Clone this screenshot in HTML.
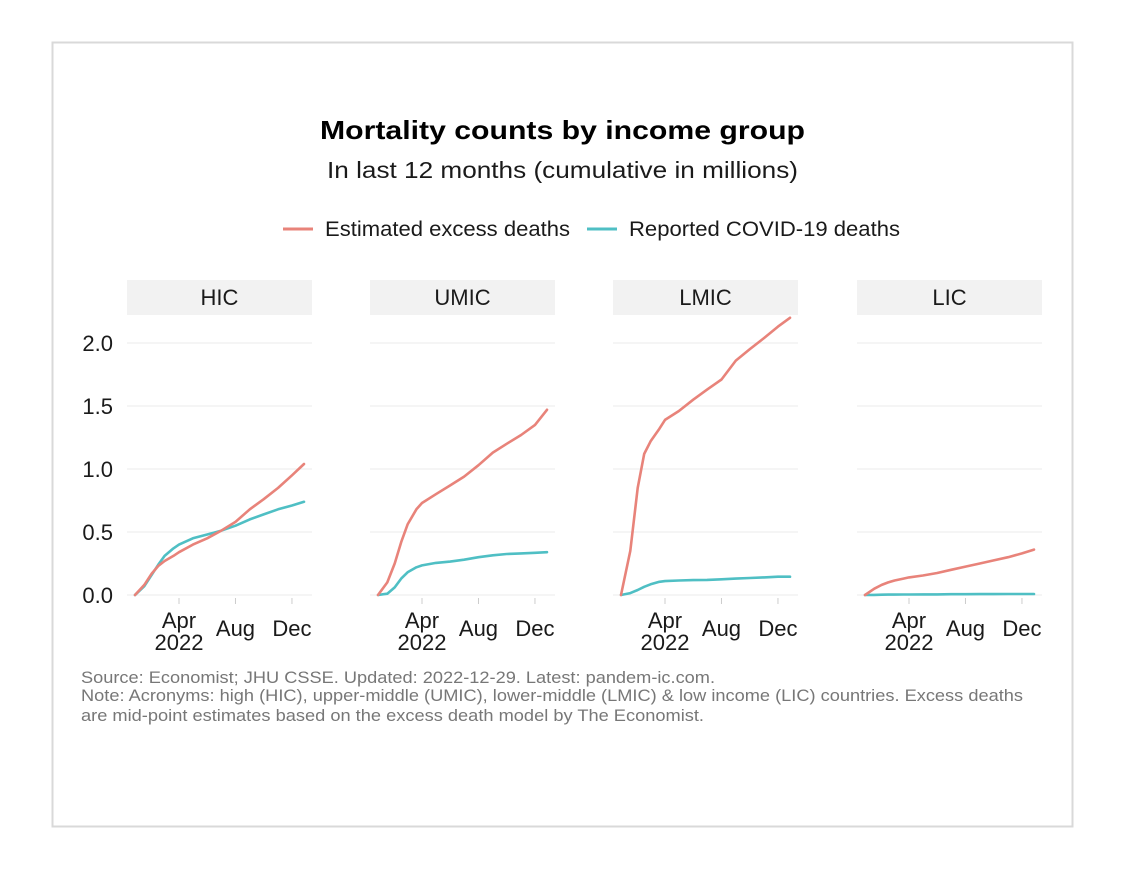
<!DOCTYPE html>
<html><head><meta charset="utf-8"><style>
html,body{margin:0;padding:0;background:#fff;}
svg{display:block;font-family:"Liberation Sans",Arial,sans-serif;}
</style></head><body>
<svg id="chart" width="1125" height="895" viewBox="0 0 1125 895" xmlns="http://www.w3.org/2000/svg">
<rect x="52.5" y="42.5" width="1020" height="784" fill="#fff" stroke="#d9d9d9" stroke-width="2"/>
<text x="320" y="139" textLength="485" lengthAdjust="spacingAndGlyphs" font-size="26" font-weight="bold" fill="#000">Mortality counts by income group</text>
<text x="327" y="178" textLength="471" lengthAdjust="spacingAndGlyphs" font-size="23" fill="#1a1a1a">In last 12 months (cumulative in millions)</text>
<g>
<g><line x1="283" y1="229" x2="313" y2="229" stroke="#e8837a" stroke-width="3"/><text x="325" y="236" textLength="245" lengthAdjust="spacingAndGlyphs" font-size="21" fill="#1a1a1a">Estimated excess deaths</text></g>
<g><line x1="587" y1="229" x2="617" y2="229" stroke="#4fbfc4" stroke-width="3"/><text x="629" y="236" textLength="271" lengthAdjust="spacingAndGlyphs" font-size="21" fill="#1a1a1a">Reported COVID-19 deaths</text></g>
</g>
<g id="panels"></g>
<g font-size="16.5" fill="#777">
<text x="81" y="683" textLength="634" lengthAdjust="spacingAndGlyphs">Source: Economist; JHU CSSE. Updated: 2022-12-29. Latest: pandem-ic.com.</text>
<text x="81" y="701" textLength="942" lengthAdjust="spacingAndGlyphs">Note: Acronyms: high (HIC), upper-middle (UMIC), lower-middle (LMIC) &amp; low income (LIC) countries. Excess deaths</text>
<text x="81" y="721" textLength="623" lengthAdjust="spacingAndGlyphs">are mid-point estimates based on the excess death model by The Economist.</text>
</g>
</svg>
<script>
const panelNames = ["HIC","UMIC","LMIC","LIC"];
const days = [0,20,36,50,64,83,95,125,156,186,217,248,278,309,339,365];
const excessHIC = [0,0.08,0.17,0.23,0.27,0.31,0.34,0.40,0.45,0.51,0.58,0.68,0.76,0.85,0.95,1.04];
const covidHIC = [0,0.07,0.16,0.24,0.31,0.37,0.40,0.45,0.48,0.51,0.55,0.60,0.64,0.68,0.71,0.74];
const excessUMIC = [0,0.10,0.25,0.42,0.56,0.68,0.73,0.80,0.87,0.94,1.03,1.13,1.20,1.27,1.35,1.47];
const covidUMIC = [0,0.01,0.06,0.13,0.18,0.22,0.235,0.255,0.265,0.28,0.30,0.315,0.325,0.33,0.335,0.34];
const excessLMIC = [0,0.35,0.85,1.12,1.22,1.32,1.39,1.46,1.55,1.63,1.71,1.86,1.95,2.04,2.13,2.20];
const covidLMIC = [0,0.015,0.04,0.065,0.085,0.105,0.11,0.115,0.118,0.12,0.125,0.13,0.135,0.14,0.145,0.145];
const excessLIC = [0,0.05,0.08,0.10,0.115,0.13,0.14,0.155,0.175,0.20,0.225,0.25,0.275,0.30,0.33,0.36];
const covidLIC = [0,0.001,0.002,0.003,0.003,0.004,0.004,0.005,0.005,0.006,0.006,0.007,0.007,0.008,0.008,0.008];
const yTicks = [0,0.5,1.0,1.5,2.0];
const yTickLabels = ["0.0","0.5","1.0","1.5","2.0"];
const xTickDays = [95,217,339];
const xTickLabels = ["Apr\n2022","Aug","Dec"];

const excessAll = [excessHIC,excessUMIC,excessLMIC,excessLIC];
const covidAll = [covidHIC,covidUMIC,covidLMIC,covidLIC];
const NS="http://www.w3.org/2000/svg";
const g=document.getElementById('panels');
const panelLeft=[127,370,613,857], panelW=185;
function yScale(v){return 595-126*v;}
function xScale(p,d){return panelLeft[p]+8+d*(panelW-16)/365;}
function mk(tag,attrs,parent){const e=document.createElementNS(NS,tag);for(const k in attrs)e.setAttribute(k,attrs[k]);parent.appendChild(e);return e;}

yTicks.forEach((t,i)=>{
  const tx=mk('text',{x:113,y:yScale(t)+8,'text-anchor':'end','font-size':22,fill:'#1a1a1a'},g);
  tx.textContent=yTickLabels[i];
  
  
});

panelNames.forEach((name,p)=>{
  const pg=mk('g',{},g);
  
  
  const strip=mk('rect',{x:panelLeft[p],y:280,width:panelW,height:35,fill:'#f2f2f2'},pg);
  
  
  const st=mk('text',{x:panelLeft[p]+panelW/2,y:305,'text-anchor':'middle','font-size':22,fill:'#1a1a1a'},pg);
  st.textContent=name;
  
  
  yTicks.forEach(t=>{
    const gl=mk('line',{x1:panelLeft[p],x2:panelLeft[p]+panelW,y1:yScale(t),y2:yScale(t),stroke:'#ebebeb','stroke-width':1},pg);
    
    
  });
  xTickDays.forEach((d,i)=>{
    const x=xScale(p,d);
    const tk=mk('line',{x1:x,x2:x,y1:598,y2:604,stroke:'#cccccc','stroke-width':1},pg);
    
    
    const parts=xTickLabels[i].split('\n');
    const tx=mk('text',{x:x,y:parts.length>1?628:636,'text-anchor':'middle','font-size':22,fill:'#1a1a1a'},pg);
    
    
    parts.forEach((s,j)=>{const ts=mk('tspan',{x:x,dy:j?22:0},tx);ts.textContent=s;});
  });
  [[covidAll[p],'#4fbfc4','reported'],[excessAll[p],'#e8837a','excess']].forEach(([vals,col,nm])=>{
    const pts=vals.map((v,i)=>xScale(p,days[i]).toFixed(1)+','+yScale(v).toFixed(1)).join(' ');
    const pl=mk('polyline',{points:pts,fill:'none',stroke:col,'stroke-width':2.6,'stroke-linejoin':'round','stroke-linecap':'round'},pg);
    
    
  });
});
</script>
</body></html>
